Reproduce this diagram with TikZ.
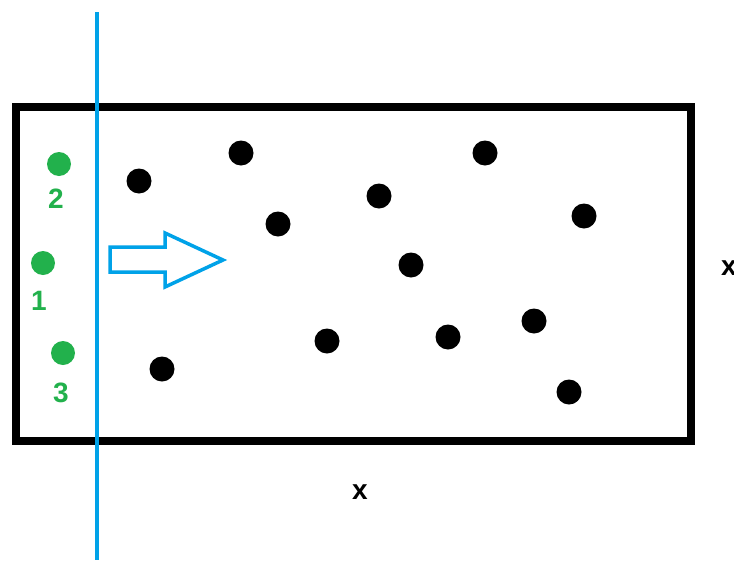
\documentclass[tikz,border=0pt]{standalone}
\usepackage{fontspec}
\setmainfont{Liberation Sans}
\definecolor{pblue}{RGB}{0,162,232}
\definecolor{pgreen}{RGB}{34,177,76}
\begin{document}
\begin{tikzpicture}[x=1pt,y=-1pt,
  bdot/.style={circle,fill=black,inner sep=0pt,minimum size=25pt},
  gdot/.style={circle,fill=pgreen,inner sep=0pt,minimum size=24pt},
  glabel/.style={text=pgreen,font=\fontsize{28}{28}\selectfont\bfseries,inner sep=0pt},
  xlabel/.style={text=black,font=\fontsize{28}{28}\selectfont\bfseries,inner sep=0pt}]
\useasboundingbox (0,0) rectangle (734,560);
\fill[white] (0,0) rectangle (734,560);
% box
\draw[line width=8pt] (16,107) rectangle (691,441);
% black particles
\foreach \n/\x/\y in {a/139/181,b/241/153,c/485/153,d/278/224,e/379/196,f/584/216,g/411/265,h/534/321,i/327/341,j/448/337,k/162/369,l/569/392}
  \node[bdot] (p\n) at (\x,\y) {};
% green particles
\node[gdot] (g2) at (59,164) {};
\node[gdot] (g1) at (43,263) {};
\node[gdot] (g3) at (63,353) {};
\node[glabel] (l2) at (56,199) {2};
\node[glabel] (l1) at (39,301) {1};
\node[glabel] (l3) at (61,393) {3};
% blue line
\draw[pblue,line width=3.5pt] (97,12) -- (97,560);
% arrow
\draw[pblue,line width=3.5pt,line join=miter] (110,247) -- (165,247) -- (165,233) -- (223,260) -- (165,287) -- (165,272) -- (110,272) -- cycle;
% labels
\node[xlabel] (xb) at (360,492) {x};
\node[xlabel] (xr) at (729,268) {x};
\end{tikzpicture}
\end{document}
